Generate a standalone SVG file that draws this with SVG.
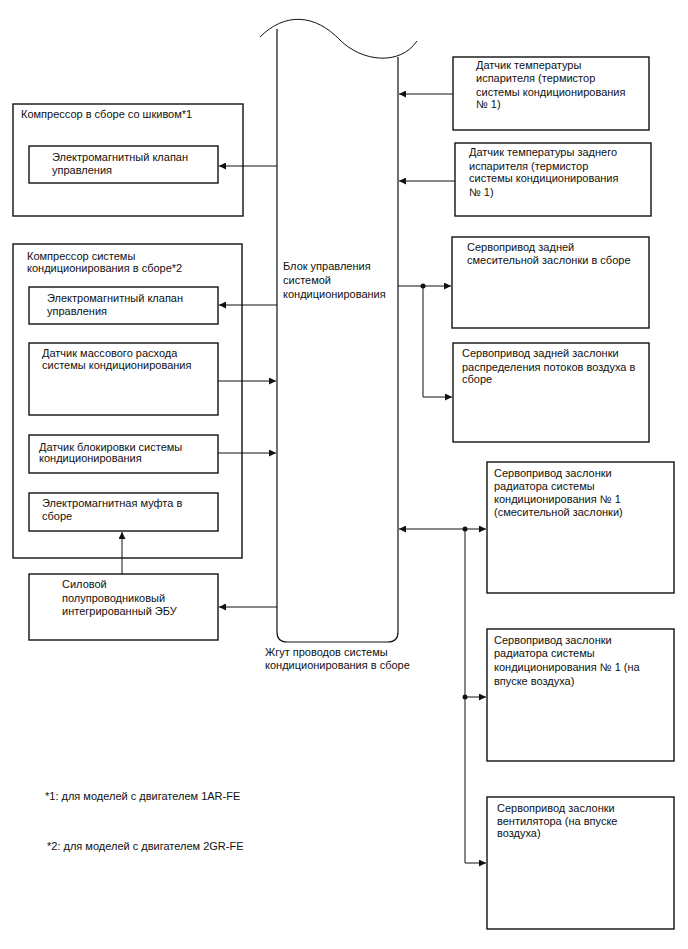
<svg xmlns="http://www.w3.org/2000/svg" width="688" height="949" viewBox="0 0 688 949">
<style>
text{font-family:"Liberation Sans",Arial,sans-serif;font-size:11px;fill:#111}
.box{fill:none;stroke:#111;stroke-width:1.4}
.bar{fill:none;stroke:#111;stroke-width:1.2}
.ln{fill:none;stroke:#111;stroke-width:1}
.dot{fill:#111}
</style>
<defs>
<marker id="ah" viewBox="0 0 10 10" refX="10" refY="5" markerWidth="9" markerHeight="7" markerUnits="userSpaceOnUse" orient="auto-start-reverse">
<path d="M0,0 L10,5 L0,10 z" fill="#111"/>
</marker>
</defs>
<rect width="688" height="949" fill="#fff"/>

<g id="ecu">
<path class="bar" d="M277,29 V632 Q277,642 287,642 H388 Q398,642 398,632 V57"/>
<path class="ln" d="M260,37 C285,12 315,14 340,40 C362,62 400,66 417,41"/>
<text x="283" y="270">Блок управления</text>
<text x="283" y="284">системой</text>
<text x="283" y="298">кондиционирования</text>
</g>
<g id="harness-label">
<text x="265" y="656">Жгут проводов системы</text>
<text x="265" y="669">кондиционирования в сборе</text>
</g>

<g id="comp1">
<rect class="box" x="13" y="104" width="230" height="112"/>
<text x="21" y="118">Компрессор в сборе со шкивом*1</text>
</g>
<g id="valve1">
<rect class="box" x="29" y="146" width="189" height="37"/>
<text x="52" y="161">Электромагнитный клапан</text>
<text x="52" y="174">управления</text>
</g>

<g id="comp2">
<rect class="box" x="13" y="244" width="229" height="314"/>
<text x="27" y="260">Компрессор системы</text>
<text x="27" y="272">кондиционирования в сборе*2</text>
</g>
<g id="valve2">
<rect class="box" x="29" y="287" width="189" height="37"/>
<text x="47" y="302">Электромагнитный клапан</text>
<text x="47" y="315">управления</text>
</g>
<g id="massflow">
<rect class="box" x="29" y="343" width="189" height="72"/>
<text x="42" y="357">Датчик массового расхода</text>
<text x="42" y="369">системы кондиционирования</text>
</g>
<g id="lock">
<rect class="box" x="29" y="435" width="189" height="38"/>
<text x="39" y="451">Датчик блокировки системы</text>
<text x="39" y="462">кондиционирования</text>
</g>
<g id="clutch">
<rect class="box" x="29" y="493" width="189" height="38"/>
<text x="42" y="507">Электромагнитная муфта в</text>
<text x="42" y="520">сборе</text>
</g>
<g id="power-ecu">
<rect class="box" x="29" y="574" width="189" height="66"/>
<text x="62" y="588">Силовой</text>
<text x="62" y="602">полупроводниковый</text>
<text x="62" y="615">интегрированный ЭБУ</text>
</g>

<g id="evap-sensor">
<rect class="box" x="453" y="57" width="196" height="73"/>
<text x="476" y="69">Датчик температуры</text>
<text x="476" y="82">испарителя (термистор</text>
<text x="476" y="96">системы кондиционирования</text>
<text x="476" y="108">№ 1)</text>
</g>
<g id="rear-evap-sensor">
<rect class="box" x="455" y="143" width="196" height="73"/>
<text x="469" y="156">Датчик температуры заднего</text>
<text x="469" y="170">испарителя (термистор</text>
<text x="469" y="182">системы кондиционирования</text>
<text x="469" y="196">№ 1)</text>
</g>
<g id="rear-mix">
<rect class="box" x="452" y="237" width="197" height="91"/>
<text x="467" y="251">Сервопривод задней</text>
<text x="467" y="264">смесительной заслонки в сборе</text>
</g>
<g id="rear-dist">
<rect class="box" x="453" y="343" width="196" height="99"/>
<text x="462" y="357">Сервопривод задней заслонки</text>
<text x="462" y="371">распределения потоков воздуха в</text>
<text x="462" y="383">сборе</text>
</g>
<g id="mix-servo">
<rect class="box" x="487" y="462" width="187" height="131"/>
<text x="494" y="477">Сервопривод заслонки</text>
<text x="494" y="490">радиатора системы</text>
<text x="494" y="503">кондиционирования № 1</text>
<text x="494" y="516">(смесительной заслонки)</text>
</g>
<g id="intake-servo">
<rect class="box" x="487" y="629" width="187" height="132"/>
<text x="494" y="644">Сервопривод заслонки</text>
<text x="494" y="657">радиатора системы</text>
<text x="494" y="671">кондиционирования № 1 (на</text>
<text x="494" y="685">впуске воздуха)</text>
</g>
<g id="blower-servo">
<rect class="box" x="487" y="797" width="187" height="132"/>
<text x="497" y="812">Сервопривод заслонки</text>
<text x="497" y="825">вентилятора (на впуске</text>
<text x="497" y="837">воздуха)</text>
</g>

<g id="notes">
<text x="45" y="800">*1: для моделей с двигателем 1AR-FE</text>
<text x="47" y="850">*2: для моделей с двигателем 2GR-FE</text>
</g>

<g id="connectors">
<line class="ln" x1="277" y1="166" x2="219" y2="166" marker-end="url(#ah)"/>
<line class="ln" x1="277" y1="305" x2="219" y2="305" marker-end="url(#ah)"/>
<line class="ln" x1="218" y1="381" x2="276" y2="381" marker-end="url(#ah)"/>
<line class="ln" x1="218" y1="453" x2="276" y2="453" marker-end="url(#ah)"/>
<line class="ln" x1="122" y1="574" x2="122" y2="532" marker-end="url(#ah)"/>
<line class="ln" x1="277" y1="607" x2="219" y2="607" marker-end="url(#ah)"/>
<line class="ln" x1="453" y1="94" x2="399" y2="94" marker-end="url(#ah)"/>
<line class="ln" x1="455" y1="181" x2="399" y2="181" marker-end="url(#ah)"/>
<line class="ln" x1="398" y1="286" x2="451" y2="286" marker-end="url(#ah)"/>
<polyline class="ln" points="423,286 423,397 452,397" marker-end="url(#ah)"/>
<circle class="dot" cx="423" cy="286" r="2.5"/>
<line class="ln" x1="399" y1="529" x2="486" y2="529" marker-start="url(#ah)" marker-end="url(#ah)"/>
<polyline class="ln" points="465,529 465,863 486,863" marker-end="url(#ah)"/>
<line class="ln" x1="465" y1="697" x2="486" y2="697" marker-end="url(#ah)"/>
<circle class="dot" cx="465" cy="529" r="2.5"/>
<circle class="dot" cx="465" cy="697" r="2.5"/>
</g>
</svg>
